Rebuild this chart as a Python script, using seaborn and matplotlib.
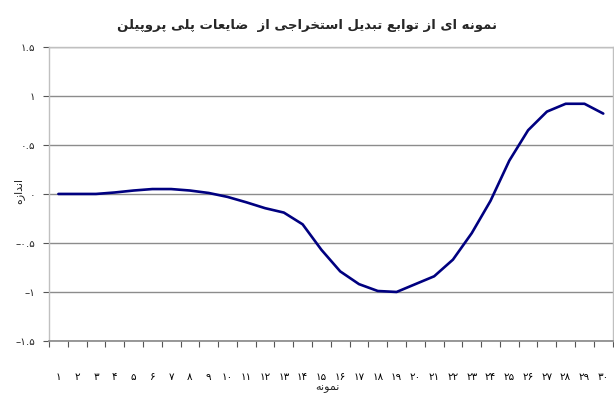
import matplotlib
matplotlib.use("Agg")
import matplotlib.pyplot as plt
import matplotlib.ticker as mticker
import seaborn as sns
import pandas as pd

# داده‌ها
samples = list(range(1, 31))
values = [0.0, 0.0, 0.0, 0.015, 0.035, 0.05, 0.05, 0.035, 0.01, -0.03,
          -0.085, -0.145, -0.19, -0.31, -0.57, -0.79, -0.92, -0.99, -1.0, -0.92,
          -0.84, -0.67, -0.40, -0.07, 0.34, 0.65, 0.84, 0.92, 0.92, 0.82]
y_ticks = [-1.5, -1, -0.5, 0, 0.5, 1, 1.5]

title = "نمونه ای از توابع تبدیل استخراجی از  ضایعات پلی پروپیلن"
x_label = "نمونه"
y_label = "اندازه"

# شکل‌های حروف (تنها، پایانی، آغازی، میانی) چون matplotlib حروف را نمی‌چسباند
FORMS = {
    'ا': ('\uFE8D', '\uFE8E', None, None),
    'ب': ('\uFE8F', '\uFE90', '\uFE91', '\uFE92'),
    'پ': ('\uFB56', '\uFB57', '\uFB58', '\uFB59'),
    'ت': ('\uFE95', '\uFE96', '\uFE97', '\uFE98'),
    'ج': ('\uFE9D', '\uFE9E', '\uFE9F', '\uFEA0'),
    'خ': ('\uFEA5', '\uFEA6', '\uFEA7', '\uFEA8'),
    'د': ('\uFEA9', '\uFEAA', None, None),
    'ر': ('\uFEAD', '\uFEAE', None, None),
    'ز': ('\uFEAF', '\uFEB0', None, None),
    'س': ('\uFEB1', '\uFEB2', '\uFEB3', '\uFEB4'),
    'ض': ('\uFEBD', '\uFEBE', '\uFEBF', '\uFEC0'),
    'ع': ('\uFEC9', '\uFECA', '\uFECB', '\uFECC'),
    'ل': ('\uFEDD', '\uFEDE', '\uFEDF', '\uFEE0'),
    'م': ('\uFEE1', '\uFEE2', '\uFEE3', '\uFEE4'),
    'ن': ('\uFEE5', '\uFEE6', '\uFEE7', '\uFEE8'),
    'ه': ('\uFEE9', '\uFEEA', '\uFEEB', '\uFEEC'),
    'و': ('\uFEED', '\uFEEE', None, None),
    'ی': ('\uFBFC', '\uFBFD', '\uFBFE', '\uFBFF'),
}


def shape(text):
    out = []
    for i, c in enumerate(text):
        if c not in FORMS:
            out.append(c)
            continue
        iso, fin, ini, med = FORMS[c]
        prev = text[i - 1] if i > 0 else None
        nxt = text[i + 1] if i + 1 < len(text) else None
        join_prev = prev in FORMS and FORMS[prev][2] is not None
        join_next = nxt in FORMS and ini is not None
        if join_prev and join_next:
            out.append(med)
        elif join_prev:
            out.append(fin)
        elif join_next:
            out.append(ini)
        else:
            out.append(iso)
    return ''.join(reversed(out))


FA_DIGITS = str.maketrans("0123456789", "۰۱۲۳۴۵۶۷۸۹")


def fa_num(v):
    s = ("%g" % v).replace("-", "–")
    return s.translate(FA_DIGITS)


df = pd.DataFrame({"sample": samples, "value": values})

sns.set_theme(style="white")
plt.rcParams["font.family"] = ["DejaVu Sans"]

fig = plt.figure(figsize=(6.14, 3.99), dpi=100)
ax = fig.add_axes([0.0798, 0.1454, 0.918, 0.737])

sns.lineplot(data=df, x="sample", y="value", ax=ax, color="#000080", linewidth=1.9)

ax.set_xlim(0.5, 30.5)
ax.set_ylim(-1.5, 1.5)
ax.set_yticks(y_ticks)
ax.yaxis.set_major_formatter(mticker.FuncFormatter(lambda v, p: fa_num(v)))
ax.set_xticks(samples)
ax.set_xticklabels([fa_num(s) for s in samples])
ax.set_xticks([s + 0.5 for s in range(0, 31)], minor=True)
ax.tick_params(axis="x", which="major", length=0, labelsize=7.5, pad=22, colors="black")
ax.tick_params(axis="x", which="minor", length=4, width=0.8, color="#555555", bottom=True)
ax.tick_params(axis="y", which="major", length=4, width=0.8, color="#555555",
               labelsize=7.5, pad=6, left=True)

ax.yaxis.grid(True, color="#8c8c8c", linewidth=1)
ax.xaxis.grid(False)
for side in ["left", "right", "top"]:
    ax.spines[side].set_color("#c0c0c0")
    ax.spines[side].set_linewidth(1)
ax.spines["bottom"].set_color("#8c8c8c")

ax.set_xlabel("")
ax.set_ylabel("")
fig.text(0.534, 0.027, shape(x_label), ha="center", va="center", fontsize=8)
fig.text(0.03, 0.522, shape(y_label), ha="center", va="center", rotation=90, fontsize=8)
fig.text(0.50, 0.937, shape(title), ha="center", va="center", fontsize=9.5, fontweight="bold")

fig.savefig("out.png", dpi=100)
